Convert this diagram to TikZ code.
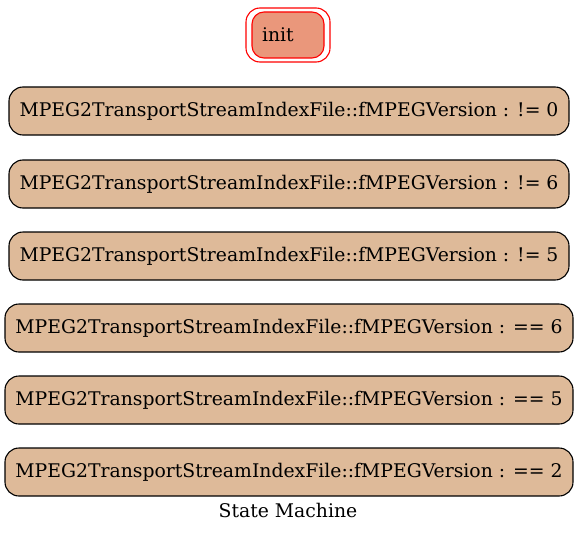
\documentclass[tikz,border=0pt]{standalone}
\usepackage{fontspec}
\setmainfont{DejaVu Serif}
\usetikzlibrary{positioning}
\definecolor{statefill}{HTML}{DEBA99}
\definecolor{initfill}{HTML}{EA977B}
\newcommand{\mpegvar}{MPEG2TransportStreamIndexFile::fMPEGVersion}

\begin{document}
\begin{tikzpicture}[
  x=1pt, y=-1pt,
  state/.style={draw=black, line width=1.1pt, fill=statefill, rounded corners=14pt, minimum width=560pt, minimum height=48pt, inner sep=0pt, font=\fontsize{18.8}{22}\selectfont},
  wide/.style={minimum width=568pt},
  initstate/.style={draw=red, line width=1.1pt, fill=initfill, rounded corners=12pt, minimum height=46pt, inner xsep=10pt, text width=52pt, align=left, font=\fontsize{18.8}{22}\selectfont},
  initring/.style={draw=red, line width=1.1pt, rounded corners=14pt, minimum width=84pt, minimum height=54pt},
  caption/.style={font=\fontsize{18.8}{22}\selectfont}
]
\useasboundingbox (0,0) rectangle (577,532);

\node[initstate] (init) at (288,35) {init};
\node[initring] (initouter) at (init) {};

\node[state] (ne0) at (289,111) {\mpegvar{} : != 0};
\node[state] (ne6) at (289,184) {\mpegvar{} : != 6};
\node[state] (ne5) at (289,256) {\mpegvar{} : != 5};
\node[state, wide] (eq6) at (289,328) {\mpegvar{} : == 6};
\node[state, wide] (eq5) at (289,400) {\mpegvar{} : == 5};
\node[state, wide] (eq2) at (289,472) {\mpegvar{} : == 2};

\node[caption] (title) at (288,510) {State Machine};
\end{tikzpicture}
\end{document}
